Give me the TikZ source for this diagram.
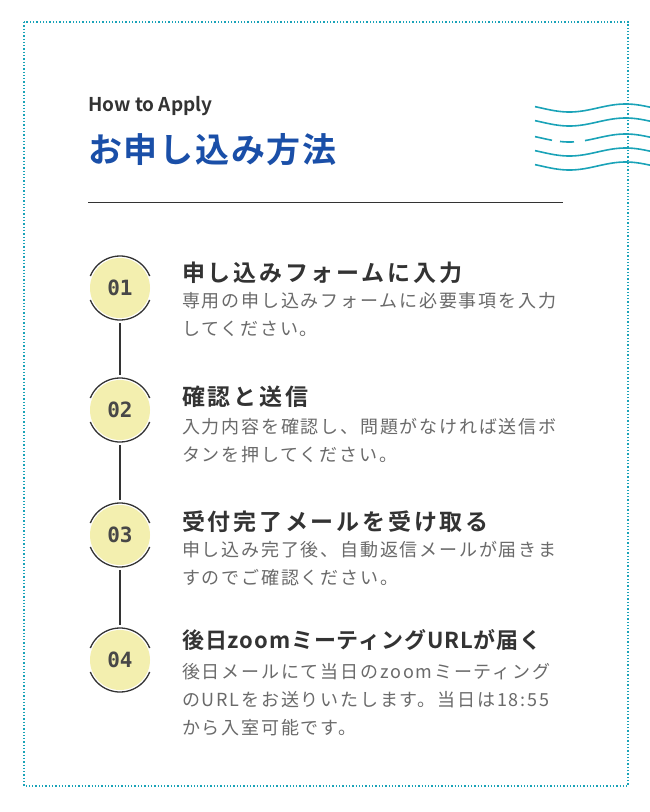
\documentclass[tikz,border=0pt]{standalone}
\usepackage{fontspec}
\setmainfont{Noto Sans CJK JP}[BoldFont={Noto Sans CJK JP Bold}]
\newfontfamily\numfont{DejaVu Sans Mono Bold}
\newfontfamily\headfont{Noto Sans CJK JP Bold}
\usetikzlibrary{positioning}
\definecolor{titleblue}{HTML}{1A4FA8}
\definecolor{wavecyan}{HTML}{1AA3B8}
\definecolor{numyellow}{HTML}{F3EFAF}
\definecolor{darktext}{HTML}{333333}
\definecolor{greytext}{HTML}{6A6A6A}
\tikzset{
  numdisk/.style={circle,fill=numyellow,minimum size=60pt,inner sep=0pt,
    font=\numfont\fontsize{21pt}{21pt}\selectfont,text=darktext!90},
  stephead/.style={anchor=base west,inner sep=0pt,font=\headfont\fontsize{23pt}{26pt}\selectfont\addfontfeatures{LetterSpace=12},text=darktext},
  stepbody/.style={anchor=north west,inner sep=0pt,align=left,font=\fontsize{18pt}{28pt}\selectfont\addfontfeatures{LetterSpace=10},text=greytext},
  wave/.style={wavecyan,line width=1.6pt}
}
\begin{document}
\begin{tikzpicture}[x=1pt,y=-1pt]
		\useasboundingbox (0,0) rectangle (650,812);
		\fill[white] (0,0) rectangle (650,812);
		\draw[wavecyan,line width=1.3pt,dotted] (24,22) rectangle (628,786);
		%waves
		\begin{scope}
			\clip (0,0) rectangle (650,812);
			\foreach \yy in {108,122,152,166}{
			\draw[wave,domain=535:650,samples=60] plot (\x,{\yy+4*sin(3.2*(\x-535)-20)});}
			\draw[wave,domain=535:552,samples=10] plot (\x,{138+4*sin(3.2*(\x-535)-20)});
			\draw[wave,domain=560:574,samples=10] plot (\x,{138+4*sin(3.2*(\x-535)-20)});
			\draw[wave,domain=585:650,samples=40] plot (\x,{138+4*sin(3.2*(\x-535)-20)});
		\end{scope}
		%header
		\node[anchor=base west,inner sep=0pt,text=darktext,font=\headfont\fontsize{19pt}{19pt}\selectfont] (howto) at (88,111) {How to Apply};
		\node[anchor=base west,inner sep=0pt,text=titleblue,font=\headfont\fontsize{34pt}{34pt}\selectfont\addfontfeatures{LetterSpace=5}] (title) at (88,162) {お申し込み方法};
		\coordinate (ruleL) at (88,202); \coordinate (ruleR) at (563,202);
		\draw[darktext,line width=1pt] (ruleL) -- (ruleR);
		%steps
		\foreach \n/\yy in {1/288,2/410,3/535,4/660}{
			\node[numdisk] (n\n) at (120,\yy) {0\n};
			\draw[darktext,line width=1.3pt] (120,\yy) ++(22:32) arc (22:158:32);
			\draw[darktext,line width=1.3pt] (120,\yy) ++(202:32) arc (202:338:32);
		}
		\foreach \a/\b in {1/2,2/3,3/4}{
		\draw[darktext,line width=1.3pt] ([yshift=-5pt]n\a.south) -- ([yshift=5pt]n\b.north);}
		\node[stephead] (h1) at (182,281) {申し込みフォームに入力};
		\node[stepbody] (b1) at (182,292) {専用の申し込みフォームに必要事項を入力\\してください。};
		\node[stephead] (h2) at (182,405) {確認と送信};
		\node[stepbody] (b2) at (182,418) {入力内容を確認し、問題がなければ送信ボ\\タンを押してください。};
		\node[stephead] (h3) at (182,530) {受付完了メールを受け取る};
		\node[stepbody] (b3) at (182,541) {申し込み完了後、自動返信メールが届きま\\すのでご確認ください。};
		\node[stephead,font=\headfont\fontsize{22pt}{26pt}\selectfont\addfontfeatures{LetterSpace=4}] (h4) at (182,648) {後日zoomミーティングURLが届く};
		\node[stepbody] (b4) at (182,663) {後日メールにて当日のzoomミーティング\\のURLをお送りいたします。当日は18:55\\から入室可能です。};
\end{tikzpicture}
\end{document}
